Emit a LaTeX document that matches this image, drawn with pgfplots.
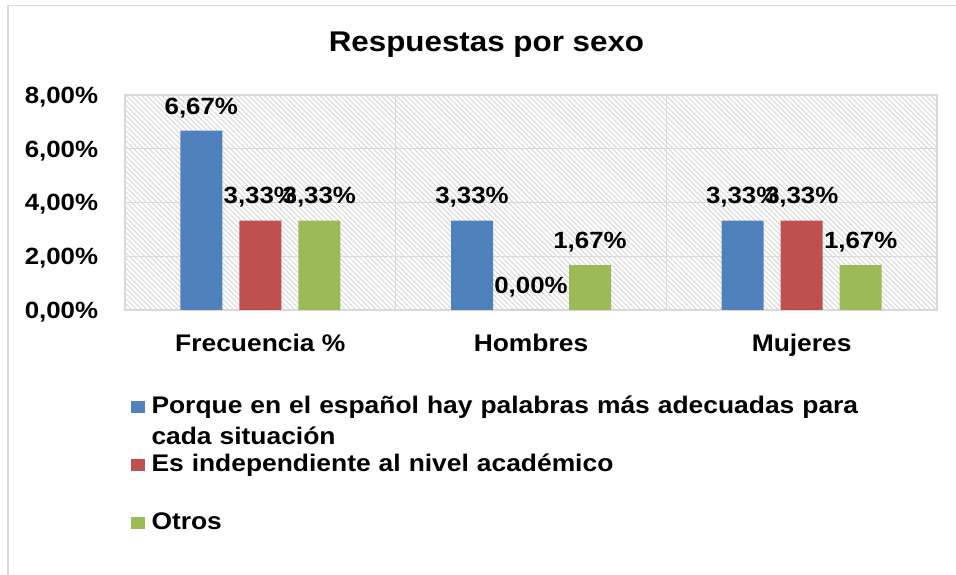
\documentclass[border=0pt]{standalone}
\usepackage{fontspec}
\setmainfont[FakeStretch=1.1]{Liberation Sans}
\usepackage{pgfplots}
\pgfplotsset{compat=1.18}
\usetikzlibrary{patterns.meta}

\definecolor{cblue}{HTML}{4F81BD}
\definecolor{cred}{HTML}{C0504D}
\definecolor{cgreen}{HTML}{9BBB59}
\definecolor{gridc}{HTML}{D9D9D9}
\definecolor{hatchc}{HTML}{D9D9D9}

\newcommand\ticfont{\fontsize{23.5}{28}\selectfont\bfseries}
\newcommand\catfont{\fontsize{24}{28}\selectfont\bfseries}
\newcommand\legfont{\fontsize{24}{31}\selectfont\bfseries}

\begin{document}
\begin{tikzpicture}
\path[use as bounding box] (0pt,0pt) rectangle (956pt,575pt);
% chart frame (right and bottom edges fall outside)
\draw[gridc, line width=1.5pt] (8pt,0pt) -- (8pt,569.5pt) -- (956pt,569.5pt);
\node[anchor=base, font=\fontsize{28.5}{32}\selectfont\bfseries] at (486.5pt,523pt) {Respuestas por sexo};

\begin{axis}[
  at={(125pt,265pt)}, anchor=south west,
  width=812pt, height=215pt, scale only axis,
  ybar=17pt, bar width=42pt,
  every axis plot post/.append style={
    legend image code/.code={\fill[##1,draw=none] (0pt,12pt) rectangle (14pt,24pt);}},
  xmin=-0.5, xmax=2.5, ymin=0, ymax=8,
  xtick={0,1,2}, xticklabels={Frecuencia \%, Hombres, Mujeres},
  extra x ticks={0.5,1.5}, extra x tick labels={},
  extra x tick style={grid=major},
  ytick={0,2,4,6,8},
  yticklabels={{0,00\%},{2,00\%},{4,00\%},{6,00\%},{8,00\%}},
  major tick length=0pt,
  ymajorgrids=true,
  major grid style={gridc, line width=1.3pt},
  axis line style={gridc, line width=1.3pt},
  axis background/.style={pattern={Lines[angle=-45,distance=3.6pt,line width=1.1pt]}, pattern color=hatchc},
  yticklabel style={font=\ticfont, anchor=east, inner sep=0pt, text height=16.8pt, text depth=0pt, xshift=-26.7pt},
  xticklabel style={font=\catfont, anchor=base, inner sep=0pt, yshift=-42pt},
  point meta=explicit symbolic,
  nodes near coords,
  every node near coord/.append style={font=\ticfont, text=black, anchor=south, inner sep=0pt, text depth=0pt, yshift=16.5pt},
  legend cell align=left,
  legend style={at={(0.0074,-0.4)}, anchor=north west, draw=none, fill=none,
    inner sep=0pt, outer sep=0pt, row sep=0pt, column sep=0pt, font=\legfont,
    nodes={text width=720pt, align=left, text height=18pt, text depth=40pt, inner xsep=6.5pt, inner ysep=0pt}},
]
\addplot[fill=cblue, draw=none] coordinates {(0,6.67) [6,67\%] (1,3.33) [3,33\%] (2,3.33) [3,33\%]};
\addlegendentry{Porque en el español hay palabras más adecuadas para\\cada situación}
\addplot[fill=cred, draw=none] coordinates {(0,3.33) [3,33\%] (1,0) [0,00\%] (2,3.33) [3,33\%]};
\addlegendentry{Es independiente al nivel académico}
\addplot[fill=cgreen, draw=none] coordinates {(0,3.33) [3,33\%] (1,1.67) [1,67\%] (2,1.67) [1,67\%]};
\addlegendentry{Otros}
\end{axis}
\end{tikzpicture}
\end{document}
